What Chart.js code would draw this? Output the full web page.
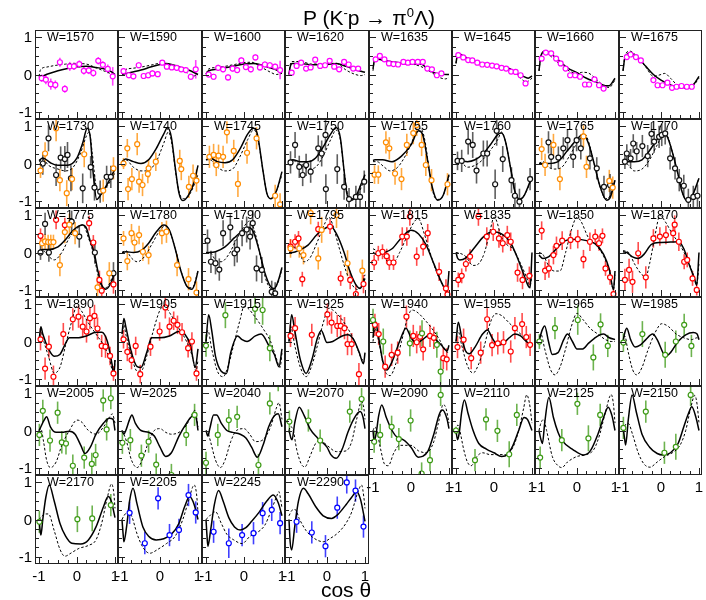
<!DOCTYPE html>
<html>
<head>
<meta charset="utf-8">
<script src="https://cdn.jsdelivr.net/npm/chart.js@4.4.0/dist/chart.umd.min.js"></script>
<style>
body { margin: 0; background: #fff; }
#wrap { position: relative; width: 706px; height: 600px; font-family: "Liberation Sans", Arial, sans-serif; color: #000; overflow: hidden; }
#wrap canvas { position: absolute; }
.lab { position: absolute; font-size: 15px; line-height: 15px; white-space: nowrap; }
.wlab { position: absolute; font-size: 12.5px; line-height: 12px; white-space: nowrap; }
.big { position: absolute; font-size: 21px; line-height: 21px; white-space: nowrap; transform: translateX(-50%); }
</style>
</head>
<body>
<div id="wrap"></div>
<script>
// beam energies, one panel each (row by row, 8 per row)
const energies = [1570, 1590, 1600, 1620, 1635, 1645, 1660, 1675,
    1730, 1740, 1745, 1750, 1755, 1760, 1765, 1770,
    1775, 1780, 1790, 1795, 1815, 1835, 1850, 1870,
    1890, 1905, 1915, 1925, 1940, 1955, 1965, 1985,
    2005, 2025, 2040, 2070, 2090, 2110, 2125, 2150,
    2170, 2205, 2245, 2290];

// measured points per panel: colour key -> [cos theta, P, error]
const points = [
    {m: [[-0.93,-0.1,0.1],[-0.82,-0.14,0.12],[-0.69,-0.26,0.15],[-0.57,-0.28,0.12],[-0.45,0.33,0.12],[-0.32,-0.39,0.1],[-0.19,0.22,0.12],[-0.08,0.22,0.1],[0.06,0.28,0.1],[0.18,0.1,0.1],[0.31,0.11,0.1],[0.43,0.04,0.1],[0.56,0.37,0.1],[0.68,0.26,0.1],[0.81,0.15,0.12],[0.94,-0.05,0.25]]},
    {m: [[-0.96,0.09,0.08],[-0.82,-0.02,0.08],[-0.7,-0.05,0.08],[-0.56,0.25,0.08],[-0.43,-0.04,0.08],[-0.31,-0.02,0.08],[-0.2,0.03,0.08],[-0.06,0.01,0.08],[0.06,0.32,0.06],[0.18,0.21,0.06],[0.31,0.19,0.06],[0.44,0.18,0.06],[0.56,0.14,0.06],[0.68,0.12,0.06],[0.81,-0.06,0.08],[0.94,0.14,0.25]]},
    {m: [[-0.93,0.0,0.08],[-0.8,-0.06,0.08],[-0.68,0.18,0.08],[-0.55,0.14,0.08],[-0.42,-0.08,0.08],[-0.3,0.16,0.08],[-0.18,0.12,0.08],[-0.07,0.38,0.08],[0.05,0.2,0.08],[0.18,0.14,0.08],[0.3,0.46,0.08],[0.42,0.19,0.08],[0.55,0.27,0.08],[0.68,0.25,0.08],[0.82,0.21,0.08],[0.95,0.12,0.25]]},
    {m: [[-0.93,0.05,0.06],[-0.8,0.23,0.06],[-0.68,0.32,0.06],[-0.55,0.16,0.06],[-0.43,0.19,0.06],[-0.31,0.4,0.06],[-0.18,0.23,0.06],[-0.05,0.25,0.06],[0.07,0.37,0.06],[0.19,0.21,0.06],[0.32,0.14,0.06],[0.45,0.34,0.06],[0.57,0.27,0.06],[0.69,0.16,0.06],[0.82,0.16,0.06]]},
    {m: [[-0.93,0.41,0.06],[-0.82,0.5,0.06],[-0.7,0.41,0.06],[-0.58,0.3,0.06],[-0.46,0.28,0.06],[-0.34,0.27,0.06],[-0.2,0.34,0.06],[-0.08,0.32,0.06],[0.04,0.34,0.06],[0.18,0.34,0.06],[0.31,0.34,0.06],[0.43,0.16,0.06],[0.55,0.14,0.06],[0.68,-0.02,0.06],[0.8,0.03,0.06]]},
    {m: [[-0.94,0.52,0.05],[-0.81,0.46,0.05],[-0.68,0.39,0.05],[-0.57,0.38,0.05],[-0.44,0.32,0.05],[-0.31,0.27,0.05],[-0.18,0.26,0.05],[-0.05,0.24,0.05],[0.07,0.22,0.05],[0.2,0.18,0.05],[0.32,0.16,0.05],[0.45,0.08,0.05],[0.57,0.07,0.05],[0.7,-0.02,0.05],[0.83,-0.24,0.06]]},
    {m: [[-0.93,0.43,0.06],[-0.82,0.59,0.06],[-0.68,0.57,0.06],[-0.55,0.43,0.06],[-0.43,0.3,0.06],[-0.3,0.16,0.06],[-0.18,-0.02,0.06],[-0.05,-0.02,0.06],[0.08,-0.06,0.06],[0.21,-0.27,0.06],[0.32,-0.27,0.06],[0.46,-0.13,0.06],[0.58,-0.29,0.06],[0.7,-0.38,0.06]]},
    {m: [[-0.9,0.47,0.06],[-0.8,0.54,0.06],[-0.66,0.47,0.06],[-0.53,0.38,0.06],[-0.2,-0.15,0.06],[-0.09,-0.29,0.06],[0.04,-0.29,0.06],[0.17,-0.22,0.06],[0.29,-0.36,0.06],[0.41,-0.33,0.06],[0.54,-0.31,0.06],[0.68,-0.33,0.06],[0.81,-0.33,0.06]]},
    {o: [[-0.96,-0.19,0.2],[-0.84,0.27,0.3],[-0.55,0.95,0.35],[-0.45,-0.45,0.3],[-0.27,-0.8,0.35],[-0.13,-0.42,0.3],[0.19,0.25,0.35],[0.69,-0.73,0.3],[0.96,-0.13,0.3]],
     k: [[-0.9,0.0,0.3],[-0.75,0.68,0.35],[-0.55,-0.31,0.3],[-0.43,0.16,0.3],[-0.32,0.12,0.35],[-0.25,0.23,0.35],[-0.16,-0.4,0.35],[0.15,-0.67,0.4],[0.36,-0.1,0.3],[0.46,-0.65,0.35],[0.61,-0.76,0.3],[0.78,-0.36,0.3],[0.89,-0.36,0.3]]},
    {o: [[-0.96,0.0,0.15],[-0.86,0.41,0.25],[-0.84,-0.69,0.3],[-0.74,-0.42,0.3],[-0.6,0.52,0.3],[-0.55,-0.49,0.3],[-0.46,-0.58,0.3],[-0.32,-0.28,0.25],[-0.3,-0.13,0.25],[-0.11,0.05,0.25],[0.52,0.07,0.3],[0.56,-0.15,0.3],[0.76,-0.63,0.3],[0.87,-0.33,0.3],[0.96,-0.46,0.3]]},
    {o: [[-0.91,0.18,0.3],[-0.8,0.23,0.3],[-0.73,-0.04,0.3],[-0.67,0.21,0.3],[-0.55,0.18,0.3],[-0.45,0.84,0.3],[-0.27,0.34,0.3],[-0.16,-0.55,0.35],[0.08,0.29,0.3],[0.33,0.68,0.3],[0.82,-0.87,0.3],[0.95,-1.1,0.3]]},
    {k: [[-0.96,0.03,0.3],[-0.84,0.5,0.35],[-0.73,-0.09,0.3],[-0.64,-0.31,0.3],[-0.55,-0.04,0.3],[-0.43,-0.22,0.3],[-0.23,0.41,0.35],[-0.14,0.27,0.35],[-0.04,0.77,0.4],[-0.03,-0.69,0.4],[0.27,-0.15,0.4],[0.45,-0.63,0.35],[0.58,-0.96,0.3],[0.76,-0.9,0.3],[0.87,-0.9,0.3],[0.98,-0.49,0.3]]},
    {o: [[-0.96,-0.3,0.25],[-0.86,-0.3,0.25],[-0.66,0.57,0.3],[-0.57,0.41,0.3],[-0.42,-0.27,0.3],[-0.25,-0.42,0.3],[-0.11,0.5,0.3],[0.06,0.82,0.3],[0.15,1.04,0.3],[0.28,0.5,0.3],[0.39,-0.04,0.3],[0.54,-0.45,0.3],[0.96,-0.56,0.3]]},
    {k: [[-0.96,0.07,0.25],[-0.85,0.07,0.3],[-0.68,0.59,0.35],[-0.56,0.5,0.35],[-0.46,-0.19,0.35],[-0.28,0.27,0.35],[-0.18,0.27,0.35],[0.03,-0.56,0.4],[0.07,0.88,0.4],[0.23,0.12,0.35],[0.46,-0.45,0.35],[0.55,-0.87,0.35],[0.67,-1.03,0.35],[0.95,-0.42,0.3]]},
    {o: [[-0.93,0.39,0.3],[-0.84,-0.04,0.3],[-0.62,0.5,0.3],[-0.45,-0.42,0.3],[0.17,0.73,0.3],[0.25,-0.09,0.3],[0.85,-0.47,0.3],[0.94,-0.65,0.3]],
     k: [[-0.75,0.57,0.3],[-0.68,0.18,0.3],[-0.49,0.16,0.3],[-0.36,0.41,0.3],[-0.25,0.63,0.3],[-0.1,0.18,0.3],[-0.01,0.63,0.3],[0.1,0.41,0.3],[0.34,0.14,0.3],[0.52,-0.13,0.3],[0.71,-0.63,0.3],[0.87,-0.58,0.3]]},
    {k: [[-0.95,0.05,0.2],[-0.9,0.27,0.25],[-0.8,0.14,0.25],[-0.73,0.54,0.25],[-0.64,0.33,0.25],[-0.49,0.47,0.3],[-0.35,0.2,0.3],[-0.25,0.8,0.3],[-0.18,0.59,0.3],[-0.05,0.72,0.3],[0.02,0.77,0.3],[0.11,0.81,0.3],[0.24,0.14,0.3],[0.37,-0.13,0.3],[0.48,-0.45,0.3],[0.6,-0.6,0.3],[0.72,-0.98,0.3],[0.85,-0.9,0.3],[0.96,-0.87,0.3]]},
    {o: [[-0.92,0.25,0.2],[-0.84,0.3,0.2],[-0.76,0.28,0.2],[-0.69,0.28,0.2],[-0.62,0.28,0.2],[-0.45,-0.34,0.3],[-0.32,0.55,0.3],[-0.2,0.75,0.3],[-0.05,0.52,0.3],[0.54,-0.94,0.3],[0.85,-0.56,0.3]],
     r: [[-0.96,0.45,0.2],[-0.55,0.88,0.25],[-0.32,0.74,0.2],[0.32,0.79,0.2],[0.43,0.27,0.2],[0.59,-0.74,0.25],[0.65,-1.03,0.25],[0.96,-0.86,0.25]],
     k: [[-0.96,0.0,0.2],[-0.84,0.77,0.3],[-0.74,0.0,0.25],[-0.14,0.83,0.3],[0.06,0.43,0.3],[0.47,0.0,0.3],[0.96,-0.56,0.3]]},
    {o: [[-0.96,0.38,0.2],[-0.86,-0.23,0.25],[-0.75,0.52,0.25],[-0.67,0.27,0.25],[-0.55,0.47,0.25],[-0.45,0.02,0.25],[-0.3,-0.07,0.25],[0.05,0.52,0.3],[0.17,0.56,0.3],[0.45,-0.34,0.3],[0.75,-0.72,0.3],[0.96,-1.08,0.3]]},
    {k: [[-0.96,0.32,0.3],[-0.87,-0.25,0.3],[-0.75,-0.29,0.3],[-0.65,-0.46,0.3],[-0.55,0.52,0.35],[-0.36,0.68,0.35],[-0.25,-0.02,0.35],[-0.18,0.08,0.35],[-0.05,0.52,0.35],[0.07,0.62,0.35],[0.16,0.43,0.35],[0.23,0.79,0.35],[0.33,-0.43,0.35],[0.47,-0.47,0.35],[0.73,-1.06,0.3],[0.82,-1.1,0.3]]},
    {o: [[-0.96,0.11,0.25],[-0.73,0.11,0.25],[-0.62,-0.07,0.25],[-0.43,1.06,0.3],[-0.23,-0.16,0.3],[-0.14,0.61,0.35],[0.25,1.01,0.35],[0.54,-0.29,0.35],[0.93,-0.49,0.3]],
     r: [[-0.96,0.16,0.2],[-0.84,0.29,0.2],[-0.75,0.38,0.2],[-0.65,-0.72,0.2],[-0.23,0.63,0.2],[0.08,0.7,0.2],[0.36,-0.7,0.2],[0.61,-0.74,0.25],[0.76,-1.12,0.25],[0.96,-0.85,0.25]]},
    {r: [[-0.97,-0.27,0.2],[-0.86,-0.02,0.2],[-0.75,0.02,0.2],[-0.64,-0.1,0.2],[-0.57,-0.27,0.2],[-0.46,-0.27,0.2],[-0.23,0.43,0.25],[-0.11,0.43,0.25],[-0.03,0.97,0.25],[0.15,-0.11,0.25],[0.32,0.16,0.25],[0.44,0.52,0.25],[0.74,-0.52,0.25],[0.92,-0.97,0.25],[0.96,-1.13,0.2]]},
    {r: [[-0.94,-0.74,0.2],[-0.85,-0.63,0.2],[-0.74,-0.31,0.2],[-0.63,-0.11,0.2],[-0.41,0.97,0.25],[-0.19,0.43,0.25],[-0.02,0.56,0.25],[0.13,0.38,0.25],[0.23,0.25,0.25],[0.35,0.47,0.25],[0.44,0.29,0.25],[0.62,-0.54,0.25],[0.75,-0.74,0.25],[0.93,-0.63,0.25]]},
    {r: [[-0.93,0.59,0.25],[-0.84,-0.49,0.25],[-0.74,-0.43,0.25],[-0.62,-0.07,0.25],[-0.54,0.18,0.25],[-0.39,0.32,0.25],[-0.17,0.34,0.25],[0.02,0.36,0.25],[0.17,-0.18,0.25],[0.34,0.29,0.25],[0.48,0.43,0.2],[0.58,0.25,0.2],[0.67,0.45,0.2],[0.75,-0.43,0.2],[0.87,-0.67,0.2],[0.96,-1.12,0.15]]},
    {r: [[-0.95,-0.74,0.3],[-0.84,-0.47,0.3],[-0.75,-0.79,0.3],[-0.6,-0.02,0.3],[-0.4,-0.67,0.3],[-0.2,0.38,0.25],[-0.03,0.43,0.25],[0.13,0.47,0.25],[0.32,0.52,0.25],[0.36,0.75,0.25],[0.47,0.29,0.25],[0.61,-0.25,0.2],[0.69,-0.2,0.2],[0.83,-0.7,0.2],[0.94,-1.01,0.15]]},
    {r: [[-0.96,0.06,0.3],[-0.84,-0.73,0.3],[-0.74,-0.14,0.3],[-0.62,-0.95,0.3],[-0.36,0.2,0.3],[-0.11,0.6,0.3],[0.04,0.67,0.3],[0.15,0.4,0.3],[0.25,0.27,0.3],[0.34,0.63,0.3],[0.46,0.69,0.3],[0.54,0.35,0.3],[0.65,-0.12,0.3],[0.75,-0.14,0.3],[0.87,-0.39,0.25],[0.96,-0.86,0.2]]},
    {r: [[-0.96,0.06,0.25],[-0.86,-0.28,0.25],[-0.75,-0.5,0.25],[-0.64,-0.12,0.25],[-0.52,-0.88,0.25],[-0.25,-0.14,0.25],[-0.01,0.27,0.25],[0.14,0.92,0.3],[0.25,0.4,0.25],[0.36,0.56,0.25],[0.46,0.45,0.25],[0.58,0.25,0.25],[0.74,-0.18,0.25],[0.84,0.0,0.25],[0.96,-0.86,0.2]]},
    {g: [[-1.0,-0.11,0.3],[-0.49,0.71,0.35],[0.29,0.88,0.4],[0.49,0.85,0.4],[0.68,-0.18,0.35]]},
    {r: [[-0.96,0.15,0.3],[-0.84,0.36,0.3],[-0.4,0.18,0.3],[0.01,0.73,0.3],[0.12,0.51,0.3],[0.27,0.42,0.3],[0.36,0.42,0.3],[0.46,0.36,0.3],[0.54,-0.07,0.3],[0.65,-0.07,0.3],[0.84,-0.88,0.3]]},
    {g: [[-1.0,0.58,0.3],[-0.73,0.0,0.35],[-0.03,-0.05,0.35],[0.29,0.22,0.35],[0.68,-0.09,0.35],[0.78,-0.81,0.35]],
     r: [[-0.95,0.45,0.3],[-0.85,0.2,0.3],[-0.68,-0.68,0.3],[-0.51,-0.36,0.3],[-0.35,-0.3,0.3],[-0.12,0.67,0.3],[0.06,0.15,0.3],[0.15,-0.02,0.3],[0.24,0.13,0.3],[0.32,-0.21,0.3],[0.5,0.15,0.3],[0.6,0.1,0.3],[0.85,-0.45,0.3],[0.94,-0.48,0.3]]},
    {r: [[-0.96,-0.15,0.3],[-0.8,0.05,0.3],[-0.6,-0.45,0.3],[-0.35,-0.3,0.3],[-0.18,0.6,0.3],[-0.05,-0.1,0.3],[0.1,-0.05,0.3],[0.25,-0.02,0.3],[0.44,-0.27,0.3],[0.55,0.36,0.3],[0.74,0.47,0.3],[0.85,0.12,0.3],[0.95,-0.09,0.3]]},
    {g: [[-0.99,0.0,0.2],[-0.58,0.36,0.3],[0.02,0.58,0.4],[0.43,-0.43,0.35],[0.62,0.46,0.3],[0.81,-0.12,0.3]]},
    {g: [[-0.99,-0.03,0.25],[-0.49,0.2,0.35],[0.11,-0.36,0.35],[0.39,0.0,0.3],[0.61,0.45,0.3],[0.8,-0.12,0.3]]},
    {g: [[-0.99,-0.12,0.3],[-0.9,0.53,0.3],[-0.71,-0.27,0.3],[-0.51,0.48,0.3],[-0.4,-0.32,0.3],[-0.29,-0.35,0.3],[-0.11,-0.95,0.3],[0.19,-0.73,0.3],[0.39,-0.9,0.3],[0.49,-0.66,0.3],[0.69,0.81,0.3],[0.78,0.03,0.3],[0.89,0.87,0.3]]},
    {g: [[-0.99,-0.33,0.3],[-0.78,-0.26,0.3],[-0.49,-0.68,0.3],[-0.3,-0.3,0.3],[-0.1,-0.92,0.3],[0.3,-1.2,0.3],[0.69,-0.12,0.3],[0.91,0.42,0.3]]},
    {g: [[-1.0,-0.87,0.3],[-0.69,-0.12,0.3],[-0.4,0.28,0.3],[-0.18,0.37,0.3],[0.38,-0.93,0.3],[0.68,0.73,0.3],[0.9,1.36,0.3]]},
    {g: [[-0.99,0.24,0.3],[-0.49,0.27,0.3],[-0.18,-0.27,0.3],[0.6,0.51,0.3],[0.91,0.85,0.3]]},
    {g: [[-0.97,-0.3,0.3],[-0.81,-0.12,0.3],[-0.51,0.1,0.3],[-0.32,-0.23,0.3],[-0.01,0.27,0.3],[0.28,-1.16,0.3],[0.5,-0.8,0.3],[0.78,0.96,0.3]]},
    {g: [[-1.0,0.0,0.1],[-0.5,-0.8,0.3],[-0.21,0.3,0.3],[0.09,-0.01,0.3],[0.4,-0.64,0.35],[0.6,0.42,0.3]]},
    {g: [[-0.97,-0.73,0.3],[-0.4,-0.26,0.3],[0.01,0.72,0.3],[0.3,-0.21,0.35],[0.61,0.42,0.3]]},
    {g: [[-0.99,0.07,0.3],[-0.4,0.51,0.3],[0.09,-0.6,0.3],[0.39,-0.44,0.35],[0.78,0.96,0.3]]},
    {g: [[-0.99,-0.06,0.3],[0.01,0.01,0.35],[0.4,0.03,0.35],[0.89,0.39,0.3]]},
    {b: [[-0.8,0.18,0.3],[-0.4,-0.64,0.3],[-0.05,0.57,0.3],[0.25,-0.42,0.3],[0.5,-0.28,0.3],[0.75,0.66,0.3],[0.94,0.19,0.3]]},
    {b: [[-0.8,-0.33,0.3],[-0.4,-0.64,0.4],[-0.05,-0.42,0.3],[0.25,-0.37,0.3],[0.49,0.17,0.3],[0.73,0.26,0.3],[0.95,-0.1,0.3]]},
    {b: [[-0.8,-0.06,0.3],[-0.4,-0.35,0.3],[-0.04,-0.72,0.3],[0.27,0.32,0.3],[0.52,1.0,0.3],[0.75,0.78,0.3],[0.96,-0.19,0.3]]}
];

// fit curves (solid) per panel: [cos theta, P]
const solidCurves = [
    [[-1,-0.08],[-0.9,-0.04],[-0.75,0.02],[-0.5,0.1],[-0.25,0.16],[0,0.21],[0.25,0.22],[0.5,0.19],[0.75,0.14],[0.9,0.08],[1,0.0]],
    [[-1,0.0],[-0.75,0.06],[-0.5,0.12],[-0.25,0.2],[0,0.27],[0.15,0.3],[0.35,0.26],[0.6,0.17],[0.8,0.1],[1,0.0]],
    [[-1,0.02],[-0.93,0.1],[-0.7,0.14],[-0.5,0.18],[-0.25,0.23],[0,0.28],[0.25,0.3],[0.5,0.24],[0.75,0.16],[0.9,0.1],[1,0.05]],
    [[-1,0],[-0.97,0.2],[-0.92,0.3],[-0.7,0.3],[-0.4,0.26],[0,0.27],[0.25,0.3],[0.5,0.22],[0.75,0.13],[1,0.06]],
    [[-1,0.15],[-0.97,0.35],[-0.92,0.42],[-0.7,0.38],[-0.4,0.33],[0,0.28],[0.25,0.28],[0.5,0.1],[0.75,0.01],[1,0.0]],
    [[-1,0.3],[-0.97,0.5],[-0.93,0.55],[-0.7,0.44],[-0.4,0.33],[0,0.25],[0.3,0.18],[0.5,0.1],[0.75,-0.04],[0.9,-0.1],[1,-0.04]],
    [[-1,0.1],[-0.95,0.5],[-0.85,0.63],[-0.7,0.57],[-0.5,0.4],[-0.25,0.18],[0,0.05],[0.25,-0.1],[0.5,-0.2],[0.75,-0.3],[0.85,-0.3],[1,-0.1]],
    [[-1,0.1],[-0.95,0.45],[-0.82,0.57],[-0.6,0.45],[-0.4,0.22],[-0.2,0.0],[0,-0.15],[0.25,-0.28],[0.5,-0.35],[0.7,-0.35],[0.85,-0.28],[1,-0.05]],
    [[-1,0.08],[-0.9,0.15],[-0.7,0.02],[-0.5,-0.05],[-0.25,-0.05],[0,0.15],[0.15,0.55],[0.27,0.95],[0.35,0.7],[0.42,-0.2],[0.52,-0.97],[0.65,-0.8],[0.8,-0.55],[1,-0.15]],
    [[-1,0.05],[-0.9,0.12],[-0.7,0.05],[-0.5,0.0],[-0.3,0.1],[-0.1,0.4],[0.1,0.8],[0.2,0.97],[0.3,0.7],[0.4,-0.1],[0.5,-0.8],[0.6,-1.0],[0.75,-0.85],[0.9,-0.5],[1,-0.05]],
    [[-1,0.1],[-0.9,0.15],[-0.7,0.05],[-0.5,0.02],[-0.3,0.1],[-0.1,0.4],[0.1,0.8],[0.25,0.95],[0.35,0.8],[0.5,-0.2],[0.6,-0.8],[0.7,-0.95],[0.85,-0.75],[1,-0.22]],
    [[-1,0.05],[-0.9,0.1],[-0.7,0.05],[-0.5,0.05],[-0.3,0.15],[-0.1,0.45],[0.1,0.8],[0.24,0.97],[0.35,0.7],[0.45,-0.2],[0.52,-0.8],[0.62,-1.0],[0.75,-0.9],[0.9,-0.55],[1,-0.3]],
    [[-1,0.08],[-0.95,0.1],[-0.75,0.1],[-0.5,0.05],[-0.25,0.2],[0,0.5],[0.2,0.88],[0.3,0.8],[0.45,0.0],[0.55,-0.6],[0.7,-0.99],[0.85,-0.85],[1,-0.3]],
    [[-1,0.05],[-0.9,0.07],[-0.7,0.05],[-0.5,0.1],[-0.3,0.25],[-0.1,0.5],[0.1,0.78],[0.2,0.82],[0.3,0.6],[0.45,-0.2],[0.55,-0.75],[0.68,-0.97],[0.8,-0.85],[1,-0.35]],
    [[-1,0.0],[-0.95,0.0],[-0.75,0.0],[-0.5,0.05],[-0.25,0.35],[0,0.65],[0.15,0.78],[0.3,0.55],[0.45,0.0],[0.6,-0.6],[0.78,-0.99],[0.88,-0.9],[1,-0.45]],
    [[-1,0.05],[-0.9,0.05],[-0.7,0.05],[-0.5,0.1],[-0.3,0.35],[-0.1,0.65],[0.05,0.8],[0.15,0.75],[0.3,0.3],[0.45,-0.3],[0.55,-0.75],[0.68,-1.0],[0.8,-0.92],[1,-0.4]],
    [[-1,0.05],[-0.9,0.08],[-0.75,0.08],[-0.5,0.15],[-0.3,0.35],[-0.1,0.6],[0.15,0.74],[0.25,0.65],[0.35,0.3],[0.45,0.0],[0.55,-0.5],[0.65,-0.88],[0.75,-0.99],[0.88,-0.85],[1,-0.52]],
    [[-1,0.0],[-0.9,0.02],[-0.7,0.0],[-0.5,0.05],[-0.3,0.25],[-0.1,0.55],[0.1,0.74],[0.25,0.6],[0.4,0.1],[0.55,-0.5],[0.7,-0.9],[0.84,-0.99],[0.93,-0.8],[1,-0.5]],
    [[-1,0.0],[-0.9,0.0],[-0.75,0.02],[-0.5,0.15],[-0.25,0.4],[0,0.62],[0.1,0.68],[0.25,0.55],[0.4,0.05],[0.55,-0.55],[0.7,-0.92],[0.8,-0.97],[0.92,-0.7],[1,-0.4]],
    [[-1,0.0],[-0.9,0.0],[-0.75,0.05],[-0.5,0.2],[-0.25,0.5],[0,0.68],[0.1,0.7],[0.25,0.5],[0.45,0.0],[0.6,-0.5],[0.75,-0.85],[0.87,-0.97],[1,-0.7]],
    [[-1,0.0],[-0.9,-0.05],[-0.7,0.0],[-0.5,0.1],[-0.25,0.4],[0,0.6],[0.2,0.5],[0.4,0.2],[0.6,-0.3],[0.8,-0.8],[0.9,-1.0],[0.95,-1.05],[1,-0.5]],
    [[-1,0.0],[-0.96,-0.15],[-0.9,-0.2],[-0.75,-0.15],[-0.5,0.15],[-0.3,0.4],[-0.05,0.56],[0.2,0.5],[0.42,0.29],[0.6,-0.1],[0.75,-0.5],[0.9,-0.9],[0.95,-0.95],[1,0.0]],
    [[-1,-0.07],[-0.9,-0.16],[-0.75,-0.12],[-0.5,0.15],[-0.3,0.32],[0,0.36],[0.25,0.32],[0.5,0.22],[0.7,-0.05],[0.85,-0.45],[0.96,-1.0],[1,-0.5]],
    [[-1,0.02],[-0.9,0.0],[-0.75,-0.12],[-0.6,-0.16],[-0.45,-0.05],[-0.25,0.22],[0,0.27],[0.25,0.28],[0.46,0.29],[0.6,0.1],[0.75,-0.35],[0.88,-0.7],[0.94,-0.88],[1,0.0]],
    [[-1,0.0],[-0.95,0.4],[-0.9,0.2],[-0.75,-0.2],[-0.6,-0.4],[-0.45,-0.35],[-0.3,-0.05],[-0.2,0.1],[0,0.1],[0.25,0.15],[0.5,0.25],[0.65,0.25],[0.8,0.0],[0.92,-0.6],[0.97,-0.9],[1,-0.5]],
    [[-1,0.2],[-0.95,0.62],[-0.9,0.4],[-0.75,-0.3],[-0.6,-0.68],[-0.5,-0.7],[-0.35,-0.3],[-0.22,0.1],[0,0.1],[0.25,0.15],[0.5,0.27],[0.65,0.2],[0.8,-0.1],[0.93,-0.7],[1,-0.2]],
    [[-1,0.0],[-0.93,0.72],[-0.85,0.3],[-0.75,-0.4],[-0.6,-0.8],[-0.46,-0.86],[-0.35,-0.3],[-0.17,0.15],[-0.05,0.05],[0.08,0.0],[0.3,0.15],[0.45,0.2],[0.67,-0.14],[0.8,-0.35],[0.92,-0.68],[1,-0.2]],
    [[-1,0.0],[-0.93,0.72],[-0.85,0.3],[-0.7,-0.5],[-0.55,-0.86],[-0.4,-0.5],[-0.25,0.1],[-0.15,0.3],[0,-0.03],[0.15,0.0],[0.4,0.15],[0.55,0.18],[0.7,0.05],[0.85,-0.3],[0.96,-0.6],[1,-0.3]],
    [[-1,0.1],[-0.95,0.58],[-0.85,0.1],[-0.75,-0.5],[-0.64,-0.77],[-0.5,-0.55],[-0.3,0.0],[-0.13,0.36],[0,0.1],[0.15,-0.05],[0.3,0.05],[0.5,0.18],[0.65,0.05],[0.8,-0.1],[0.95,-0.25],[1,-0.1]],
    [[-1,0.0],[-0.94,0.52],[-0.85,0.1],[-0.75,-0.25],[-0.65,-0.33],[-0.5,-0.15],[-0.3,0.2],[-0.17,0.31],[-0.05,0.1],[0.1,-0.1],[0.25,-0.05],[0.4,0.1],[0.55,0.2],[0.7,0.15],[0.85,0.0],[1,-0.1]],
    [[-1,0.0],[-0.92,0.3],[-0.85,0.42],[-0.75,0.0],[-0.65,-0.35],[-0.5,-0.3],[-0.35,0.05],[-0.25,0.2],[-0.12,0.0],[0.0,-0.2],[0.15,-0.2],[0.3,-0.05],[0.45,0.08],[0.6,0.18],[0.7,0.2],[0.85,0.1],[1,0.05]],
    [[-1,0.0],[-0.95,0.25],[-0.9,0.36],[-0.8,0.05],[-0.68,-0.15],[-0.55,-0.1],[-0.4,0.05],[-0.22,0.2],[-0.1,0.05],[0.05,-0.3],[0.12,-0.4],[0.25,-0.3],[0.45,0.0],[0.65,0.18],[0.85,0.24],[0.95,0.2],[1,0.05]],
    [[-1,0.0],[-0.95,0.1],[-0.88,0.25],[-0.8,0.37],[-0.7,0.1],[-0.55,-0.05],[-0.4,-0.05],[-0.2,-0.02],[-0.05,-0.1],[0.1,-0.4],[0.21,-0.62],[0.35,-0.45],[0.5,-0.1],[0.7,0.2],[0.85,0.33],[0.95,0.3],[1,0.0]],
    [[-1,0.0],[-0.95,-0.1],[-0.9,0.0],[-0.8,0.3],[-0.74,0.42],[-0.65,0.2],[-0.5,0.0],[-0.3,-0.05],[-0.15,-0.15],[0.0,-0.45],[0.15,-0.7],[0.3,-0.6],[0.5,-0.15],[0.7,0.2],[0.87,0.4],[0.95,0.35],[1,0.0]],
    [[-1,0.0],[-0.95,-0.15],[-0.9,0.05],[-0.8,0.42],[-0.72,0.42],[-0.6,0.2],[-0.45,0.0],[-0.3,-0.05],[-0.1,-0.1],[0.05,-0.2],[0.2,-0.45],[0.35,-0.72],[0.5,-0.4],[0.65,0.1],[0.8,0.4],[0.9,0.45],[1,0.1]],
    [[-1,0.0],[-0.95,-0.2],[-0.92,-0.25],[-0.85,0.2],[-0.73,0.63],[-0.6,0.4],[-0.45,0.05],[-0.25,-0.2],[0.0,-0.45],[0.1,-0.65],[0.24,-0.75],[0.4,-0.5],[0.55,-0.05],[0.7,0.3],[0.87,0.51],[0.95,0.35],[1,0.05]],
    [[-1,0.0],[-0.97,-0.3],[-0.92,-0.1],[-0.85,0.4],[-0.77,0.69],[-0.65,0.35],[-0.5,0.0],[-0.35,-0.2],[-0.2,-0.25],[0,-0.45],[0.19,-0.72],[0.3,-0.7],[0.45,-0.55],[0.6,-0.1],[0.75,0.45],[0.83,0.55],[0.95,0.3],[1,0.05]],
    [[-1,0.0],[-0.96,-0.25],[-0.92,-0.1],[-0.85,0.5],[-0.78,0.82],[-0.68,0.45],[-0.55,0.0],[-0.4,-0.35],[-0.2,-0.5],[0.0,-0.6],[0.2,-0.7],[0.35,-0.65],[0.5,-0.4],[0.65,0.0],[0.79,0.35],[0.88,0.3],[1,0.0]],
    [[-1,0.0],[-0.96,-0.2],[-0.91,-0.35],[-0.85,0.2],[-0.74,0.89],[-0.62,0.35],[-0.5,-0.05],[-0.4,-0.26],[-0.1,-0.52],[0.17,-0.66],[0.35,-0.55],[0.55,-0.1],[0.7,0.35],[0.82,0.63],[0.92,0.4],[1,0.0]],
    [[-1,0.1],[-0.96,-0.2],[-0.93,-0.39],[-0.86,0.3],[-0.76,0.96],[-0.65,0.5],[-0.5,-0.1],[-0.3,-0.45],[-0.1,-0.62],[0.06,-0.66],[0.25,-0.6],[0.45,-0.35],[0.6,0.1],[0.72,0.45],[0.81,0.64],[0.92,0.35],[1,0.0]],
    [[-1,0.0],[-0.97,-0.3],[-0.95,-0.42],[-0.9,0.0],[-0.82,0.6],[-0.73,0.93],[-0.6,0.5],[-0.45,-0.1],[-0.3,-0.45],[-0.14,-0.64],[0.1,-0.66],[0.3,-0.55],[0.5,-0.2],[0.7,0.35],[0.82,0.62],[0.9,0.5],[1,0.05]],
    [[-1,0.0],[-0.97,-0.4],[-0.95,-0.6],[-0.88,-0.2],[-0.8,0.5],[-0.71,0.84],[-0.6,0.4],[-0.45,-0.2],[-0.3,-0.45],[-0.1,-0.55],[0.1,-0.52],[0.3,-0.4],[0.5,-0.1],[0.65,0.35],[0.78,0.62],[0.9,0.4],[1,0.0]],
    [[-1,0.0],[-0.97,-0.5],[-0.95,-0.72],[-0.88,-0.3],[-0.78,0.4],[-0.67,0.78],[-0.55,0.5],[-0.4,0.05],[-0.25,-0.2],[-0.1,-0.28],[0.05,-0.22],[0.2,-0.05],[0.4,0.2],[0.6,0.5],[0.77,0.66],[0.9,0.45],[1,0.1]],
    [[-1,0.0],[-0.97,-0.6],[-0.93,-0.82],[-0.85,-0.2],[-0.75,0.5],[-0.62,0.84],[-0.5,0.7],[-0.3,0.35],[-0.1,0.1],[0.12,0.03],[0.3,0.15],[0.5,0.4],[0.65,0.6],[0.78,0.75],[0.88,0.55],[1,-0.05]]
];

// second model (dashed) per panel: [cos theta, P]
const dashedCurves = [
    [[-1,-0.05],[-0.96,0.13],[-0.8,0.2],[-0.6,0.24],[-0.3,0.28],[-0.1,0.3],[0.25,0.28],[0.5,0.18],[0.75,0.08],[0.9,0.02],[1,-0.02]],
    [[-1,0.02],[-0.93,0.12],[-0.7,0.17],[-0.5,0.2],[-0.25,0.25],[0,0.3],[0.2,0.28],[0.45,0.17],[0.7,0.05],[0.88,-0.04],[1,0.0]],
    [[-1,0.02],[-0.93,0.15],[-0.7,0.19],[-0.5,0.22],[-0.25,0.27],[0,0.32],[0.2,0.33],[0.45,0.2],[0.7,0.06],[0.85,0.0],[1,0.03]],
    [[-1,0],[-0.97,0.25],[-0.92,0.35],[-0.7,0.35],[-0.4,0.28],[0,0.3],[0.25,0.3],[0.5,0.12],[0.75,0.0],[0.9,-0.03],[1,0.0]],
    [[-1,0.1],[-0.97,0.35],[-0.92,0.42],[-0.7,0.36],[-0.4,0.3],[0,0.28],[0.25,0.22],[0.5,0.08],[0.75,-0.08],[0.9,-0.12],[1,-0.08]],
    [[-1,0.3],[-0.97,0.5],[-0.93,0.55],[-0.7,0.42],[-0.4,0.32],[0,0.25],[0.3,0.2],[0.5,0.12],[0.7,-0.1],[0.85,-0.2],[1,-0.1]],
    [[-1,0.1],[-0.95,0.5],[-0.85,0.6],[-0.7,0.5],[-0.5,0.32],[-0.25,0.12],[0,0.03],[0.15,0.06],[0.3,0.04],[0.5,-0.12],[0.7,-0.3],[0.85,-0.35],[1,-0.15]],
    [[-1,0.1],[-0.95,0.5],[-0.82,0.63],[-0.6,0.45],[-0.4,0.2],[-0.2,-0.05],[0,0.0],[0.1,0.03],[0.25,-0.1],[0.5,-0.35],[0.7,-0.38],[0.85,-0.3],[1,-0.1]],
    [[-1,0.05],[-0.9,0.12],[-0.75,-0.05],[-0.5,-0.15],[-0.3,-0.2],[-0.1,-0.1],[0.1,0.3],[0.25,0.75],[0.32,0.85],[0.4,0.3],[0.5,-0.6],[0.6,-0.75],[0.8,-0.6],[1,-0.25]],
    [[-1,0.05],[-0.9,0.1],[-0.7,-0.1],[-0.5,-0.2],[-0.35,-0.2],[-0.1,0.05],[0.1,0.55],[0.22,0.85],[0.3,0.6],[0.45,-0.5],[0.55,-0.9],[0.65,-0.95],[0.8,-0.8],[1,-0.3]],
    [[-1,0.1],[-0.9,0.1],[-0.7,-0.1],[-0.5,-0.2],[-0.3,-0.15],[-0.1,0.2],[0.1,0.65],[0.25,0.9],[0.35,0.75],[0.5,-0.2],[0.6,-0.8],[0.72,-0.95],[0.85,-0.75],[1,-0.3]],
    [[-1,0.05],[-0.9,0.08],[-0.7,-0.05],[-0.5,-0.15],[-0.3,-0.1],[-0.1,0.2],[0.1,0.65],[0.24,0.9],[0.35,0.65],[0.45,-0.2],[0.55,-0.85],[0.65,-0.95],[0.8,-0.85],[1,-0.4]],
    [[-1,0.05],[-0.9,0.05],[-0.7,-0.1],[-0.55,-0.2],[-0.35,-0.1],[-0.1,0.3],[0.1,0.75],[0.25,0.95],[0.35,0.7],[0.5,-0.3],[0.6,-0.85],[0.7,-0.97],[0.85,-0.85],[1,-0.35]],
    [[-1,0.05],[-0.9,0.05],[-0.7,-0.1],[-0.5,-0.05],[-0.3,0.1],[-0.1,0.35],[0.1,0.65],[0.2,0.85],[0.3,0.6],[0.45,-0.2],[0.55,-0.75],[0.68,-0.95],[0.8,-0.85],[1,-0.4]],
    [[-1,0.0],[-0.9,0.05],[-0.75,-0.1],[-0.6,-0.15],[-0.4,-0.1],[-0.2,0.2],[0,0.55],[0.2,0.8],[0.3,0.6],[0.45,0.0],[0.6,-0.6],[0.75,-0.95],[0.85,-0.9],[1,-0.45]],
    [[-1,0.05],[-0.9,0.0],[-0.7,-0.2],[-0.5,-0.15],[-0.3,0.1],[-0.1,0.5],[0.05,0.75],[0.15,0.75],[0.3,0.3],[0.45,-0.3],[0.55,-0.75],[0.68,-1.0],[0.8,-0.92],[1,-0.4]],
    [[-1,0.05],[-0.9,0.05],[-0.75,-0.1],[-0.6,-0.2],[-0.4,0.0],[-0.2,0.4],[0,0.65],[0.15,0.75],[0.3,0.4],[0.45,-0.1],[0.55,-0.6],[0.7,-0.97],[0.85,-0.85],[1,-0.45]],
    [[-1,0.0],[-0.9,0.05],[-0.75,-0.15],[-0.6,-0.25],[-0.4,-0.1],[-0.2,0.25],[0,0.6],[0.15,0.72],[0.3,0.45],[0.45,-0.1],[0.6,-0.65],[0.75,-0.95],[0.85,-0.95],[1,-0.5]],
    [[-1,0.0],[-0.9,0.0],[-0.75,-0.2],[-0.6,-0.25],[-0.4,-0.05],[-0.2,0.35],[0,0.7],[0.15,0.85],[0.3,0.5],[0.45,-0.2],[0.6,-0.8],[0.75,-1.0],[0.88,-0.85],[1,-0.45]],
    [[-1,0.1],[-0.9,0.15],[-0.75,0.05],[-0.6,-0.25],[-0.45,-0.15],[-0.25,0.3],[-0.05,0.8],[0.05,0.95],[0.15,0.75],[0.3,0.2],[0.5,-0.5],[0.65,-0.85],[0.8,-1.0],[0.92,-0.85],[1,-0.6]],
    [[-1,0.1],[-0.9,0.05],[-0.75,-0.05],[-0.6,-0.25],[-0.45,-0.25],[-0.3,0.0],[-0.1,0.45],[0.1,0.85],[0.2,0.9],[0.35,0.5],[0.5,0.0],[0.7,-0.6],[0.85,-0.9],[0.95,-1.05],[1,-0.9]],
    [[-1,0.0],[-0.9,-0.02],[-0.75,-0.1],[-0.55,-0.35],[-0.4,-0.3],[-0.25,0.0],[-0.1,0.6],[0.0,0.95],[0.05,0.9],[0.2,0.4],[0.35,0.2],[0.5,0.1],[0.7,-0.3],[0.85,-0.65],[0.95,-0.9],[1,-0.6]],
    [[-1,0.0],[-0.9,-0.05],[-0.75,-0.35],[-0.6,-0.5],[-0.45,-0.5],[-0.3,0.0],[-0.15,0.6],[0,0.95],[0.1,0.85],[0.3,0.4],[0.5,0.2],[0.7,-0.1],[0.85,-0.5],[0.96,-1.0],[1,-0.6]],
    [[-1,0.05],[-0.85,0.0],[-0.7,-0.3],[-0.5,-0.6],[-0.4,-0.65],[-0.3,-0.3],[-0.15,0.5],[-0.03,1.0],[0.1,0.85],[0.3,0.5],[0.5,0.2],[0.7,-0.2],[0.85,-0.6],[0.94,-0.88],[1,-0.3]],
    [[-1,0.0],[-0.95,0.3],[-0.9,0.1],[-0.75,-0.4],[-0.6,-0.85],[-0.45,-0.7],[-0.3,-0.1],[-0.15,0.5],[0,0.95],[0.1,0.85],[0.3,0.5],[0.5,0.2],[0.7,-0.1],[0.85,-0.45],[0.97,-0.9],[1,-0.5]],
    [[-1,0.1],[-0.95,0.45],[-0.9,0.2],[-0.75,-0.4],[-0.6,-0.8],[-0.5,-0.8],[-0.35,-0.4],[-0.2,0.2],[0,0.85],[0.1,0.95],[0.3,0.7],[0.5,0.35],[0.7,0.0],[0.85,-0.4],[0.95,-0.8],[1,-0.5]],
    [[-1,0.0],[-0.95,0.3],[-0.85,-0.2],[-0.7,-0.8],[-0.55,-0.95],[-0.4,-0.6],[-0.25,0.0],[-0.1,0.6],[0.0,0.95],[0.1,0.9],[0.3,0.65],[0.5,0.35],[0.7,0.0],[0.85,-0.45],[0.95,-0.7],[1,-0.3]],
    [[-1,0.0],[-0.95,0.4],[-0.85,-0.1],[-0.7,-0.7],[-0.55,-0.95],[-0.4,-0.65],[-0.25,-0.1],[-0.1,0.5],[0.05,0.9],[0.15,0.85],[0.35,0.65],[0.55,0.35],[0.75,-0.05],[0.9,-0.45],[1,-0.55]],
    [[-1,0.0],[-0.95,0.35],[-0.85,0.0],[-0.7,-0.75],[-0.55,-0.92],[-0.4,-0.6],[-0.25,0.0],[-0.1,0.6],[0.02,0.85],[0.15,0.8],[0.35,0.6],[0.55,0.35],[0.75,0.05],[0.9,-0.25],[1,-0.3]],
    [[-1,0.0],[-0.95,0.3],[-0.85,-0.1],[-0.7,-0.65],[-0.55,-0.85],[-0.4,-0.6],[-0.25,-0.1],[-0.1,0.5],[0.05,0.75],[0.2,0.7],[0.4,0.5],[0.6,0.3],[0.8,0.1],[0.95,-0.05],[1,-0.05]],
    [[-1,0.0],[-0.95,0.2],[-0.85,-0.2],[-0.7,-0.75],[-0.58,-0.9],[-0.45,-0.7],[-0.3,-0.2],[-0.15,0.4],[0,0.76],[0.15,0.6],[0.35,0.35],[0.55,0.2],[0.75,0.05],[0.9,0.0],[1,0.0]],
    [[-1,0.0],[-0.95,0.15],[-0.88,-0.2],[-0.75,-0.75],[-0.64,-0.9],[-0.5,-0.7],[-0.35,-0.25],[-0.15,0.25],[0.02,0.48],[0.2,0.4],[0.4,0.2],[0.6,0.1],[0.8,0.05],[0.95,0.1],[1,0.05]],
    [[-1,0.0],[-0.95,0.05],[-0.88,-0.3],[-0.8,-0.8],[-0.7,-1.0],[-0.55,-0.85],[-0.4,-0.4],[-0.2,0.0],[0.0,0.28],[0.1,0.25],[0.3,0.0],[0.5,-0.1],[0.7,0.1],[0.85,0.35],[0.93,0.45],[1,0.2]],
    [[-1,0.0],[-0.95,-0.1],[-0.88,-0.3],[-0.75,-0.8],[-0.6,-1.0],[-0.45,-0.75],[-0.3,-0.3],[-0.15,0.0],[0.0,0.05],[0.15,-0.05],[0.3,-0.1],[0.5,-0.05],[0.7,0.15],[0.85,0.45],[0.92,0.55],[1,0.1]],
    [[-1,0.0],[-0.95,-0.05],[-0.88,-0.3],[-0.75,-0.8],[-0.62,-1.0],[-0.5,-0.8],[-0.35,-0.3],[-0.2,0.0],[0.0,0.05],[0.15,-0.1],[0.3,-0.3],[0.5,-0.25],[0.7,0.1],[0.85,0.6],[0.92,0.75],[1,0.3]],
    [[-1,0.0],[-0.97,0.1],[-0.9,0.05],[-0.8,-0.5],[-0.68,-0.9],[-0.58,-0.98],[-0.45,-0.7],[-0.3,-0.35],[-0.18,-0.26],[0.0,-0.4],[0.25,-0.57],[0.5,-0.55],[0.65,-0.3],[0.78,0.3],[0.91,0.78],[0.97,0.6],[1,0.3]],
    [[-1,0.0],[-0.95,0.1],[-0.9,0.0],[-0.8,-0.5],[-0.7,-0.9],[-0.6,-0.95],[-0.45,-0.6],[-0.3,-0.4],[-0.15,-0.4],[0.0,-0.4],[0.2,-0.55],[0.4,-0.6],[0.6,-0.3],[0.72,0.2],[0.85,0.7],[0.92,0.6],[1,0.2]],
    [[-1,0.0],[-0.95,0.15],[-0.9,0.0],[-0.8,-0.5],[-0.7,-0.85],[-0.6,-0.95],[-0.45,-0.7],[-0.3,-0.6],[-0.1,-0.65],[0.1,-0.65],[0.3,-0.65],[0.5,-0.45],[0.65,0.0],[0.78,0.6],[0.86,0.96],[0.93,0.75],[1,0.2]],
    [[-1,0.0],[-0.95,0.2],[-0.88,0.3],[-0.8,0.0],[-0.65,-0.7],[-0.5,-0.95],[-0.4,-1.0],[-0.25,-0.85],[0.0,-0.7],[0.25,-0.65],[0.45,-0.5],[0.6,-0.1],[0.75,0.5],[0.9,0.97],[0.96,0.7],[1,0.2]],
    [[-1,0.0],[-0.94,0.15],[-0.86,0.19],[-0.75,-0.1],[-0.6,-0.6],[-0.45,-0.9],[-0.29,-0.99],[-0.1,-0.85],[0.1,-0.7],[0.3,-0.6],[0.5,-0.4],[0.65,0.0],[0.78,0.6],[0.89,0.95],[0.95,0.7],[1,0.2]],
    [[-1,0.0],[-0.95,0.05],[-0.85,0.15],[-0.75,0.15],[-0.6,-0.3],[-0.45,-0.8],[-0.32,-0.99],[-0.15,-0.9],[0.05,-0.78],[0.3,-0.7],[0.5,-0.55],[0.65,-0.1],[0.8,0.6],[0.91,0.96],[0.97,0.7],[1,0.3]],
    [[-1,0.0],[-0.95,0.1],[-0.85,0.2],[-0.75,0.1],[-0.6,-0.4],[-0.45,-0.75],[-0.27,-0.91],[-0.05,-0.8],[0.17,-0.65],[0.4,-0.45],[0.6,0.0],[0.75,0.5],[0.9,0.93],[0.96,0.7],[1,0.2]],
    [[-1,0.0],[-0.95,0.05],[-0.85,0.15],[-0.75,0.21],[-0.6,-0.1],[-0.45,-0.4],[-0.27,-0.55],[-0.05,-0.65],[0.16,-0.45],[0.35,-0.35],[0.55,-0.15],[0.7,0.2],[0.85,0.6],[0.92,0.75],[0.97,0.5],[1,0.3]],
    [[-1,0.1],[-0.92,0.25],[-0.84,0.27],[-0.72,0.0],[-0.55,-0.3],[-0.35,-0.5],[-0.1,-0.6],[0.1,-0.5],[0.3,-0.35],[0.5,-0.1],[0.65,0.2],[0.8,0.7],[0.91,0.93],[0.97,0.6],[1,0.3]]
];

// axis ticks and labels
const tickSteps = [-1, -0.75, -0.5, -0.25, 0, 0.25, 0.5, 0.75, 1];
const yTickValues = [1, 0, -1];
const yTickLabels = ['1', '0', '-1'];
const xTickValues = [-1, 0, 1];
const xTickLabels = ['-1', '0', '1'];
// panels that carry the cos theta labels under them
const xLabelledPanels = [36, 37, 38, 39, 40, 41, 42, 43];

const colourOf = {m: '#ff00ff', k: '#111111', o: '#ff8c00', r: '#ff0000', g: '#3c9a14', b: '#0000ff'};
const barOf = {m: 'rgba(255,0,255,0.75)', k: 'rgba(40,40,40,0.75)', o: 'rgba(255,140,0,0.75)', r: 'rgba(255,0,0,0.7)', g: 'rgba(60,154,20,0.75)', b: 'rgba(0,0,255,0.75)'};

const X0 = 35, PW = 83.375, Y0 = 30, PH = 89;
const PXU = 38; // pixels per unit of cos theta

const errorBars = {
    id: 'errorBars',
    beforeDatasetsDraw(chart) {
        const ctx = chart.ctx, xs = chart.scales.x, ys = chart.scales.y;
        ctx.save();
        ctx.lineWidth = 1.6;
        chart.data.datasets.forEach(ds => {
            if (!ds.errs) return;
            ctx.strokeStyle = ds.barColour;
            ds.data.forEach((p, j) => {
                const px = xs.getPixelForValue(p.x);
                ctx.beginPath();
                ctx.moveTo(px, ys.getPixelForValue(p.y - ds.errs[j]));
                ctx.lineTo(px, ys.getPixelForValue(p.y + ds.errs[j]));
                ctx.stroke();
            });
        });
        ctx.restore();
    }
};

const frame = {
    id: 'frame',
    afterDraw(chart) {
        const ctx = chart.ctx, xs = chart.scales.x, ys = chart.scales.y;
        const w = chart.width, h = chart.height;
        ctx.save();
        ctx.strokeStyle = '#222';
        ctx.lineWidth = 1;
        ctx.strokeRect(0.5, 0.5, w - 1, h - 1);
        ctx.beginPath();
        tickSteps.forEach(v => {
            const len = Number.isInteger(v) ? 6 : 3;
            const px = Math.round(xs.getPixelForValue(v)) + 0.5;
            ctx.moveTo(px, h - 1);
            ctx.lineTo(px, h - 1 - len);
            const py = Math.round(ys.getPixelForValue(v)) + 0.5;
            ctx.moveTo(1, py);
            ctx.lineTo(1 + len, py);
        });
        ctx.stroke();
        ctx.restore();
    }
};

function toXY(list) {
    return list.map(p => ({x: p[0], y: p[1]}));
}

function addDiv(cls, text, left, top, extra) {
    const d = document.createElement('div');
    d.className = cls;
    d.textContent = text;
    d.style.left = left + 'px';
    d.style.top = top + 'px';
    if (extra) Object.assign(d.style, extra);
    document.getElementById('wrap').appendChild(d);
    return d;
}

function makePanel(i) {
    const r = Math.floor(i / 8), c = i % 8;
    const left = Math.round(X0 + c * PW);
    const right = Math.round(X0 + (c + 1) * PW);
    const top = Y0 + r * PH;
    const w = right - left, h = PH;

    const cv = document.createElement('canvas');
    cv.width = w;
    cv.height = h;
    cv.style.left = left + 'px';
    cv.style.top = top + 'px';
    document.getElementById('wrap').appendChild(cv);

    const datasets = [];
    Object.keys(points[i]).forEach(key => {
        const list = points[i][key];
        datasets.push({
            type: 'scatter',
            data: toXY(list),
            errs: list.map(p => p[2]),
            barColour: barOf[key],
            borderColor: colourOf[key],
            backgroundColor: '#ffffff',
            pointRadius: 2.5,
            pointBorderWidth: 1.2,
            clip: 0
        });
    });
    datasets.push({
        type: 'line',
        data: toXY(solidCurves[i]),
        borderColor: '#000',
        borderWidth: 1.5,
        pointRadius: 0,
        cubicInterpolationMode: 'monotone',
        fill: false,
        clip: 0
    });
    datasets.push({
        type: 'line',
        data: toXY(dashedCurves[i]),
        borderColor: '#000',
        borderWidth: 1,
        borderDash: [2.5, 2],
        pointRadius: 0,
        cubicInterpolationMode: 'monotone',
        fill: false,
        clip: 0
    });

    const xmin = -1 - 4 / PXU;
    new Chart(cv, {
        type: 'scatter',
        data: {datasets: datasets},
        options: {
            responsive: false,
            animation: false,
            events: [],
            layout: {autoPadding: false, padding: 0},
            plugins: {legend: {display: false}, tooltip: {enabled: false}},
            scales: {
                x: {type: 'linear', min: xmin, max: xmin + w / PXU, display: false},
                y: {type: 'linear', min: -1.2, max: 1.2, display: false}
            }
        },
        plugins: [errorBars, frame]
    });

    addDiv('wlab', 'W=' + energies[i], left + 12, top + 1);

    if (c === 0) {
        yTickValues.forEach((v, k) => {
            const py = top + (1.2 - v) / 2.4 * h;
            addDiv('lab', yTickLabels[k], 0, py - 8, {width: '32px', textAlign: 'right'});
        });
    }
    if (xLabelledPanels.includes(i)) {
        xTickValues.forEach((v, k) => {
            const px = left + 4 + (v + 1) * PXU;
            const d = addDiv('lab', xTickLabels[k], px, top + h + 4);
            d.style.transform = 'translateX(-50%)';
        });
    }
}

for (let i = 0; i < energies.length; i++) makePanel(i);

const t = addDiv('big', '', 369, 2);
t.innerHTML = 'P (K<sup style="font-size:13px">-</sup>p &rarr; &pi;<sup style="font-size:13px">0</sup>&Lambda;)';
addDiv('big', 'cos \u03b8', 346, 579);
</script>
</body>
</html>
